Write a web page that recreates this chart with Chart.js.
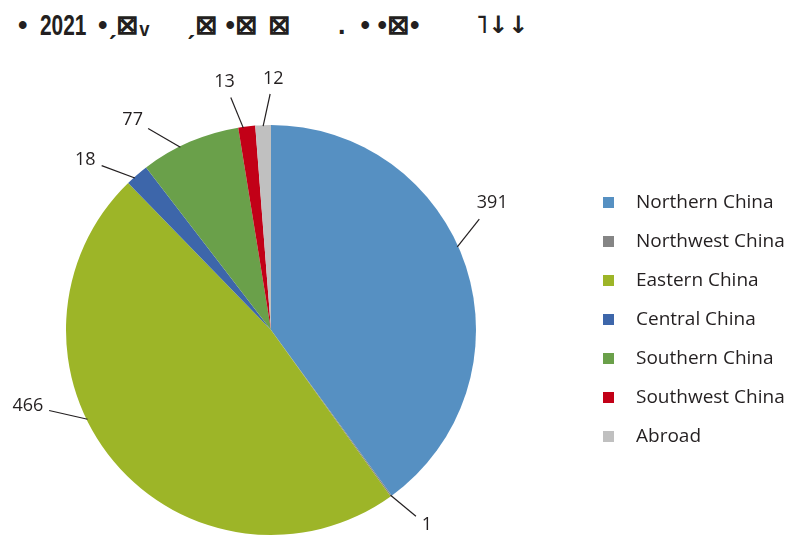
<!DOCTYPE html>
<html>
<head>
<meta charset="utf-8">
<script src="https://cdn.jsdelivr.net/npm/chart.js@4"></script>
<style>
body { margin: 0; background: #fff; }
#wrap { position: relative; width: 789px; height: 536px; overflow: hidden; }
#chart { position: absolute; left: 0; top: 0; }
.t { position: absolute; top: 7px; color: #231f20; font-family: "Liberation Sans", sans-serif; font-weight: bold; font-size: 27px; line-height: 36px; white-space: pre; transform-origin: left center; }
</style>
</head>
<body>
<div id="wrap">
<div class="t" style="left:18px">•</div>
<div class="t" style="left:40px; font-size:29px; transform:scaleX(0.72)">2021</div>
<div class="t" style="left:98px">•ˏ⊠ᵥ</div>
<div class="t" style="left:186px">ˏ⊠ •⊠</div>
<div class="t" style="left:268px">⊠</div>
<div class="t" style="left:338px">.  • •⊠•</div>
<div class="t" style="left:476px; font-family:'DejaVu Sans'; font-size:24px">˥↓↓</div>
<canvas id="chart" width="789" height="536"></canvas>
</div>
<script>

// data
const regions = [
"Northern China",
"Northwest China",
"Eastern China",
"Central China",
"Southern China",
"Southwest China",
"Abroad"
];

const counts = [391, 1, 466, 18, 77, 13, 12];

const colors = [
"#5690c2",
"#858585",
"#9db528",
"#3d66aa",
"#6aa04a",
"#c20017",
"#c0c0c0"
];

// leader line tweaks (degrees): start shift from mid angle, end shift from start
const lineStartShift = [-6, 0, 14, -1, -3, -1, 0];
const lineEndShift = [-4, -2, 6, -4, -5, -2, 2];

const ink = "#231f20";

const leaderLabels = {
    id: "leaderLabels",
    afterDatasetsDraw(chart) {
        const ctx = chart.ctx;
        const arcs = chart.getDatasetMeta(0).data;
        ctx.save();
        ctx.font = "18px 'Open Sans', sans-serif";
        ctx.fillStyle = ink;
        ctx.strokeStyle = ink;
        ctx.lineWidth = 1.2;
        arcs.forEach((arc, i) => {
            const p = arc.getProps(["x", "y", "startAngle", "endAngle", "outerRadius"], true);
            const mid = (p.startAngle + p.endAngle) / 2;
            const a1 = mid + lineStartShift[i] * Math.PI / 180;
            const a2 = a1 + lineEndShift[i] * Math.PI / 180;
            const r = p.outerRadius;
            const sx = p.x + Math.cos(a1) * (r - 1);
            const sy = p.y + Math.sin(a1) * (r - 1);
            const ex = p.x + Math.cos(a2) * (r + 31);
            const ey = p.y + Math.sin(a2) * (r + 31);
            ctx.beginPath();
            ctx.moveTo(sx, sy);
            ctx.lineTo(ex, ey);
            ctx.stroke();
            const txt = String(counts[i]);
            const w = ctx.measureText(txt).width;
            let ux = ex - sx, uy = ey - sy;
            const len = Math.hypot(ux, uy);
            ux /= len; uy /= len;
            const k = 5 + Math.abs(ux) * w / 2 + Math.abs(uy) * 8;
            ctx.textAlign = "center";
            ctx.textBaseline = "middle";
            ctx.fillText(txt, ex + ux * k, ey + uy * k);
        });
        ctx.restore();
    }
};

const sideLegend = {
    id: "sideLegend",
    afterDraw(chart) {
        const ctx = chart.ctx;
        ctx.save();
        ctx.font = "19px 'Open Sans', sans-serif";
        ctx.textBaseline = "middle";
        ctx.textAlign = "left";
        regions.forEach((name, i) => {
            const y = 202 + i * 39;
            ctx.fillStyle = colors[i];
            ctx.fillRect(603, y - 5, 11, 11);
            ctx.fillStyle = ink;
            ctx.fillText(name, 636, y + 1);
        });
        ctx.restore();
    }
};

new Chart(
document.getElementById("chart"),
{
type: "pie",

data: {
labels: regions,
datasets: [{
data: counts,
backgroundColor: colors,
borderWidth: 0
}]
},

options: {
responsive: false,
animation: false,
layout: {
padding: { left: 66, right: 313, top: 125, bottom: 1 }
},
plugins: {
legend: { display: false },
tooltip: { enabled: false }
}
},

plugins: [leaderLabels, sideLegend]

});

</script>
</body>
</html>
